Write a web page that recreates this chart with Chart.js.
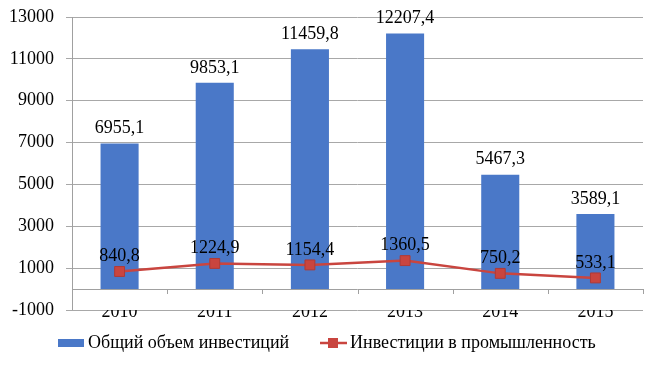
<!DOCTYPE html>
<html>
<head>
<meta charset="utf-8">
<script src="https://cdn.jsdelivr.net/npm/chart.js@4/dist/chart.umd.min.js"></script>
<style>
html,body{margin:0;padding:0;background:#fff;}
#wrap{width:658px;height:365px;position:relative;}
</style>
</head>
<body>
<div id="wrap"><canvas id="c" width="658" height="365"></canvas></div>
<script>
const categories = ['2010','2011','2012','2013','2014','2015'];
const totalInvest = [6955.1, 9853.1, 11459.8, 12207.4, 5467.3, 3589.1];
const industryInvest = [840.8, 1224.9, 1154.4, 1360.5, 750.2, 533.1];
const seriesNames = ['Общий объем инвестиций', 'Инвестиции в промышленность'];
const yTicks = [-1000, 1000, 3000, 5000, 7000, 9000, 11000, 13000];

const FONT = '"Liberation Serif", "Times New Roman", serif';
const BLUE = '#4a78c8';
const RED = '#c9453f';
const fmt = v => v.toFixed(1).replace('.', ',');

const overlay = {
  id: 'overlay',
  beforeDatasetsDraw(chart) {
    const {ctx, chartArea, scales} = chart;
    const y0 = scales.y.getPixelForValue(0);
    ctx.save();
    ctx.strokeStyle = '#a0a0a0';
    ctx.lineWidth = 1;
    ctx.beginPath();
    ctx.moveTo(chartArea.left + 0.5, chartArea.top);
    ctx.lineTo(chartArea.left + 0.5, chartArea.bottom);
    ctx.stroke();
    ctx.beginPath();
    ctx.moveTo(chartArea.left, Math.round(y0) + 0.5);
    ctx.lineTo(chartArea.right, Math.round(y0) + 0.5);
    const step = (chartArea.right - chartArea.left) / categories.length;
    for (let i = 1; i <= categories.length; i++) {
      const x = Math.round(chartArea.left + step * i) + 0.5;
      ctx.moveTo(x, Math.round(y0));
      ctx.lineTo(x, Math.round(y0) + 5);
    }
    ctx.stroke();
    ctx.restore();
  },
  afterDatasetsDraw(chart) {
    const {ctx} = chart;
    ctx.save();
    ctx.font = '18px ' + FONT;
    ctx.fillStyle = '#000';
    ctx.textAlign = 'center';
    ctx.textBaseline = 'middle';
    chart.getDatasetMeta(1).data.forEach((el, i) => {
      ctx.fillText(fmt(totalInvest[i]), el.x, el.y - 15);
    });
    chart.getDatasetMeta(0).data.forEach((el, i) => {
      ctx.fillText(fmt(industryInvest[i]), el.x, el.y - 15);
    });
    const ly = 343;
    ctx.fillStyle = BLUE;
    ctx.fillRect(58, ly - 4, 26, 8);
    ctx.fillStyle = '#000';
    ctx.textAlign = 'left';
    ctx.fillText(seriesNames[0], 88, ly);
    ctx.strokeStyle = RED;
    ctx.lineWidth = 2.5;
    ctx.beginPath();
    ctx.moveTo(320, ly);
    ctx.lineTo(347, ly);
    ctx.stroke();
    ctx.fillStyle = RED;
    ctx.fillRect(328, ly - 5, 10, 10);
    ctx.fillStyle = '#000';
    ctx.fillText(seriesNames[1], 350, ly);
    ctx.restore();
  }
};

new Chart(document.getElementById('c'), {
  data: {
    labels: categories,
    datasets: [
      {
        type: 'line',
        label: seriesNames[1],
        data: industryInvest,
        borderColor: RED,
        backgroundColor: RED,
        borderWidth: 2.5,
        pointStyle: 'rect',
        pointRadius: 7,
        pointBackgroundColor: RED,
        pointBorderColor: '#b03a36',
        pointBorderWidth: 1,
        tension: 0,
        order: 0
      },
      {
        type: 'bar',
        label: seriesNames[0],
        data: totalInvest,
        backgroundColor: BLUE,
        borderWidth: 0,
        categoryPercentage: 1,
        barPercentage: 0.4,
        order: 1
      }
    ]
  },
  options: {
    responsive: false,
    animation: false,
    layout: {padding: {top: 17, right: 15, bottom: 0, left: 0}},
    plugins: {legend: {display: false}, tooltip: {enabled: false}},
    scales: {
      x: {
        grid: {display: false, drawTicks: false},
        border: {display: false},
        ticks: {font: {family: FONT, size: 18}, color: '#000', padding: -9, maxRotation: 0},
        afterFit: s => { s.height = 55; s.paddingLeft = 0; s.paddingRight = 0; }
      },
      y: {
        min: -1000,
        max: 13000,
        afterBuildTicks: s => { s.ticks = yTicks.map(v => ({value: v})); },
        grid: {color: '#a8a8a8', tickLength: 6, drawOnChartArea: true},
        border: {display: false},
        ticks: {font: {family: FONT, size: 18}, color: '#000', padding: 12, callback: v => String(v)},
        afterFit: s => { s.width = 72; s.paddingTop = 0; s.paddingBottom = 0; }
      }
    }
  },
  plugins: [overlay]
});
</script>
</body>
</html>
